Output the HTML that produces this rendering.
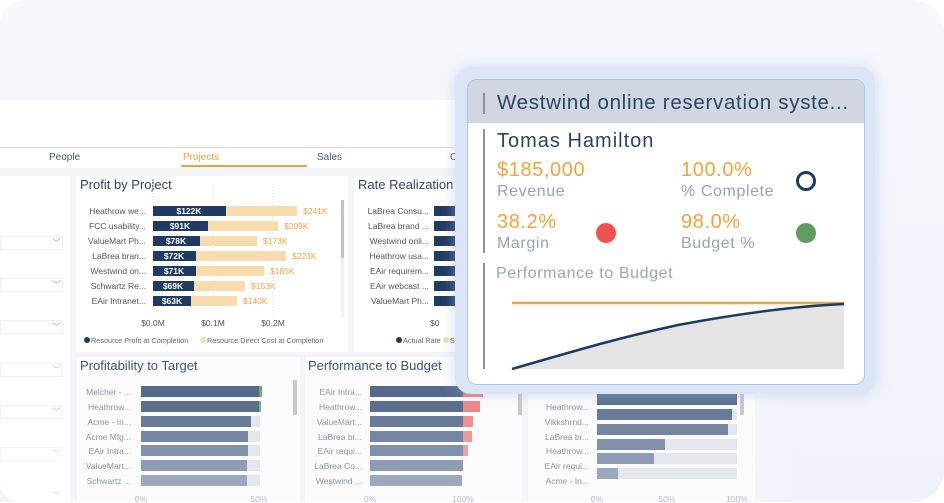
<!DOCTYPE html>
<html><head><meta charset="utf-8"><style>
*{margin:0;padding:0;box-sizing:border-box}
body{width:944px;height:502px;overflow:hidden;background:#fff;font-family:"Liberation Sans",sans-serif;position:relative}
.a{position:absolute}
.t{position:absolute;white-space:nowrap}
.p .t{letter-spacing:0.6px}
</style></head><body>
<div class="a" style="left:0;top:0;width:944px;height:502px;border-radius:24px 32px 32px 0;background:linear-gradient(180deg,#f7f8fd,#f0f2fb)"></div>
<!-- dashboard -->
<div class="a" style="left:0;top:100px;width:800px;height:402px;background:linear-gradient(90deg,rgba(255,255,255,1) 80%,rgba(255,255,255,0));border-bottom-left-radius:20px"></div>
<div class="a" style="left:0;top:147px;width:460px;height:1px;background:#d8dbe0"></div>
<div class="a" style="left:0;top:168px;width:780px;height:334px;background:linear-gradient(90deg,#f3f5f7 85%,rgba(243,245,247,0))"></div>
<div class="t" style="left:49px;top:152px;font-size:10px;color:#41597a">People</div>
<div class="t" style="left:183px;top:152px;font-size:10px;color:#f3a23d">Projects</div>
<div class="a" style="left:181px;top:165px;width:126px;height:2px;background:#f3a23d"></div>
<div class="t" style="left:317px;top:152px;font-size:10px;color:#41597a">Sales</div>
<div class="t" style="left:450px;top:152px;font-size:10px;color:#41597a">C</div>
<!-- left panel -->
<div class="a" style="left:0;top:176px;width:70px;height:326px;background:#fff;border-bottom-left-radius:20px"></div>
<div class="a" style="left:0;top:236px;width:63px;height:14px;border:1px solid #eceef0"></div>
<div class="a" style="left:0;top:278px;width:63px;height:14px;border:1px solid #eceef0"></div>
<div class="a" style="left:0;top:320px;width:63px;height:14px;border:1px solid #eceef0"></div>
<div class="a" style="left:0;top:363px;width:63px;height:14px;border:1px solid #f0f1f3"></div>
<div class="a" style="left:0;top:405px;width:63px;height:14px;border:1px solid #f0f1f3"></div>
<div class="a" style="left:0;top:447px;width:63px;height:14px;border:1px solid #f3f4f5"></div>
<div class="t" style="left:52px;top:236px;font-size:9px;color:#9aa;line-height:14px">﹀</div>
<div class="t" style="left:52px;top:278px;font-size:9px;color:#9aa;line-height:14px">﹀</div>
<div class="t" style="left:52px;top:320px;font-size:9px;color:#9aa;line-height:14px">﹀</div>
<div class="t" style="left:52px;top:363px;font-size:9px;color:#bbc;line-height:14px">﹀</div>
<div class="t" style="left:52px;top:405px;font-size:9px;color:#bbc;line-height:14px">﹀</div>
<div class="t" style="left:52px;top:447px;font-size:9px;color:#ccd;line-height:14px">﹀</div>
<div class="t" style="left:52px;top:489px;font-size:9px;color:#ccd;line-height:14px">﹀</div>

<!-- Profit by project -->
<div class="a" style="left:76px;top:176px;width:272px;height:176px;background:#fff"></div>
<div class="t" style="left:80px;top:177px;font-size:13px;color:#2b4568">Profit by Project</div>
<div class="a" style="left:341px;top:200px;width:3px;height:117px;background:#f0f0f0"></div>
<div class="a" style="left:341px;top:200px;width:3px;height:58px;background:#c4c4c4"></div>
<svg class="a" style="left:76px;top:176px" width="272" height="176" font-family="Liberation Sans" font-size="8.5">
<g stroke="#ddd" stroke-dasharray="1 2"><line x1="77" y1="8" x2="77" y2="138"/><line x1="137" y1="8" x2="137" y2="138"/><line x1="197" y1="8" x2="197" y2="138"/></g>
<g fill="#f7dcad"><rect x="77" y="30" width="144" height="10"/><rect x="77" y="45" width="125" height="10"/><rect x="77" y="60" width="104" height="10"/><rect x="77" y="75" width="133" height="10"/><rect x="77" y="90" width="111" height="10"/><rect x="77" y="105" width="92" height="10"/><rect x="77" y="120" width="84" height="10"/></g>
<g fill="#1f3a63"><rect x="77" y="30" width="73" height="10"/><rect x="77" y="45" width="55" height="10"/><rect x="77" y="60" width="47" height="10"/><rect x="77" y="75" width="43" height="10"/><rect x="77" y="90" width="43" height="10"/><rect x="77" y="105" width="41" height="10"/><rect x="77" y="120" width="38" height="10"/></g>
<g fill="#fff" font-weight="bold" text-anchor="middle"><text x="113" y="38">$122K</text><text x="104" y="53">$91K</text><text x="100" y="68">$78K</text><text x="98" y="83">$72K</text><text x="98" y="98">$71K</text><text x="97" y="113">$69K</text><text x="96" y="128">$63K</text></g>
<g fill="#f3a23d"><text x="227" y="38">$241K</text><text x="208" y="53">$209K</text><text x="187" y="68">$173K</text><text x="216" y="83">$223K</text><text x="194" y="98">$185K</text><text x="175" y="113">$153K</text><text x="167" y="128">$140K</text></g>
<g fill="#555" text-anchor="end"><text x="70" y="38">Heathrow we...</text><text x="70" y="53">FCC usability...</text><text x="70" y="68">ValueMart Ph...</text><text x="70" y="83">LaBrea bran...</text><text x="70" y="98">Westwind on...</text><text x="70" y="113">Schwartz Re...</text><text x="70" y="128">EAir Intranet...</text></g>
<g fill="#555" text-anchor="middle"><text x="77" y="150">$0.0M</text><text x="137" y="150">$0.1M</text><text x="197" y="150">$0.2M</text></g>
<circle cx="11" cy="164" r="3" fill="#1f3a63"/><text x="15" y="167" font-size="7.3" fill="#666">Resource Profit at Completion</text>
<circle cx="127" cy="164" r="3" fill="#f7dcad"/><text x="131" y="167" font-size="7.3" fill="#666">Resource Direct Cost at Completion</text>
</svg>
<!-- Rate realization -->
<div class="a" style="left:354px;top:176px;width:110px;height:176px;background:#fff"></div>
<svg class="a" style="left:354px;top:176px" width="110" height="176" font-family="Liberation Sans" font-size="8.5">
<text x="4" y="13" font-size="13" fill="#2b4568">Rate Realization</text>
<g fill="#1f3a63"><rect x="80" y="30" width="30" height="10"/><rect x="80" y="45" width="30" height="10"/><rect x="80" y="60" width="30" height="10"/><rect x="80" y="75" width="30" height="10"/><rect x="80" y="90" width="30" height="10"/><rect x="80" y="105" width="30" height="10"/><rect x="80" y="120" width="30" height="10"/></g>
<g fill="#555" text-anchor="end"><text x="75" y="38">LaBrea Consu...</text><text x="75" y="53">LaBrea brand ...</text><text x="75" y="68">Westwind onli...</text><text x="75" y="83">Heathrow usa...</text><text x="75" y="98">EAir requirem...</text><text x="75" y="113">EAir webcast ...</text><text x="75" y="128">ValueMart Ph...</text></g>
<text x="76" y="150" fill="#555">$0</text>
<circle cx="45" cy="164" r="3" fill="#1f3a63"/><text x="49" y="167" font-size="7.3" fill="#666">Actual Rate</text>
<circle cx="92" cy="164" r="3" fill="#f7dcad"/><text x="96" y="167" font-size="7.3" fill="#666">Sa</text>
</svg>

<!-- bottom panels -->
<div class="a" style="left:77px;top:357px;width:223px;height:145px;background:#fcfcfd"></div>
<div class="a" style="left:305px;top:357px;width:217px;height:145px;background:#fcfcfd"></div>
<div class="a" style="left:528px;top:357px;width:227px;height:145px;background:#fcfcfd"></div>
<svg class="a" style="left:0;top:357px" width="780" height="145" font-family="Liberation Sans" font-size="8.5">
<text x="80" y="13" font-size="13" fill="#3d5577">Profitability to Target</text>
<text x="308" y="13" font-size="13" fill="#3d5577">Performance to Budget</text>
<rect x="293" y="23" width="4" height="35" fill="#c8c8c8"/>
<rect x="518" y="23" width="4" height="35" fill="#c8c8c8"/>
<rect x="740" y="23" width="4" height="35" fill="#c8c8c8"/>
<g fill="#e4e7ec">
<rect x="141" y="44" width="119" height="11"/><rect x="141" y="59" width="119" height="11"/><rect x="141" y="74" width="119" height="11"/><rect x="141" y="88" width="119" height="11"/><rect x="141" y="103" width="119" height="11"/><rect x="141" y="118" width="119" height="11"/>
<rect x="597" y="52" width="140" height="11"/><rect x="597" y="67" width="140" height="11"/><rect x="597" y="82" width="140" height="11"/><rect x="597" y="96" width="140" height="11"/><rect x="597" y="111" width="140" height="11"/>
</g>
<g>
<rect x="141" y="29" width="118" height="11" fill="#55698a"/><rect x="259" y="29" width="3" height="11" fill="#6aaa6a"/>
<rect x="141" y="44" width="118" height="11" fill="#5b6f8f"/><rect x="259" y="44" width="2" height="11" fill="#7ab07a"/>
<rect x="141" y="59" width="110" height="11" fill="#687b99"/>
<rect x="141" y="74" width="107" height="11" fill="#7586a2"/>
<rect x="141" y="88" width="107" height="11" fill="#8291ab"/>
<rect x="141" y="103" width="106" height="11" fill="#8f9db4"/>
<rect x="141" y="118" width="106" height="11" fill="#9ca8bc"/>
<rect x="370" y="29" width="93" height="11" fill="#55698a"/><rect x="463" y="29" width="20" height="11" fill="#ee8080"/>
<rect x="370" y="44" width="93" height="11" fill="#5b6f8f"/><rect x="463" y="44" width="17" height="11" fill="#ee8888"/>
<rect x="370" y="59" width="93" height="11" fill="#687b99"/><rect x="463" y="59" width="10" height="11" fill="#ef9090"/>
<rect x="370" y="74" width="93" height="11" fill="#7586a2"/><rect x="463" y="74" width="9" height="11" fill="#f09898"/>
<rect x="370" y="88" width="93" height="11" fill="#8291ab"/><rect x="463" y="88" width="5" height="11" fill="#f0a0a0"/>
<rect x="370" y="103" width="93" height="11" fill="#8f9db4"/>
<rect x="370" y="118" width="92" height="11" fill="#9ca8bc"/>
<rect x="597" y="23" width="140" height="2" fill="#55698a"/>
<rect x="597" y="37" width="140" height="11" fill="#5b6f8f"/>
<rect x="597" y="52" width="135" height="11" fill="#687b99"/>
<rect x="597" y="67" width="131" height="11" fill="#7586a2"/>
<rect x="597" y="82" width="68" height="11" fill="#8291ab"/>
<rect x="597" y="96" width="57" height="11" fill="#8f9db4"/>
<rect x="597" y="111" width="21" height="11" fill="#9ca8bc"/>
</g>
<g text-anchor="end" fill="#8a94a3">
<text x="131" y="38">Melcher - ...</text><text x="131" y="53">Heathrow...</text><text x="131" y="68">Acme - In...</text><text x="131" y="83">Acme Mfg...</text><text x="131" y="97">EAir Intra...</text><text x="131" y="112">ValueMart...</text><text x="131" y="127">Schwartz ...</text>
<text x="362" y="38">EAir Intra...</text><text x="362" y="53">Heathrow...</text><text x="362" y="68">ValueMart...</text><text x="362" y="83">LaBrea br...</text><text x="362" y="97">EAir requi...</text><text x="362" y="112">LaBrea Co...</text><text x="362" y="127">Westwind ...</text>
<text x="589" y="53">Heathrow...</text><text x="589" y="68">Vikkshrnd...</text><text x="589" y="83">LaBrea br...</text><text x="589" y="97">Heathrow...</text><text x="589" y="112">EAir requi...</text><text x="589" y="127">Acme - In...</text>
</g>
<g fill="#b5bcc6" text-anchor="middle"><text x="141" y="145">0%</text><text x="259" y="145">50%</text><text x="370" y="145">0%</text><text x="463" y="145">100%</text><text x="597" y="145">0%</text><text x="667" y="145">50%</text><text x="737" y="145">100%</text></g>
</svg>

<!-- popup -->
<div class="a" style="left:455px;top:67px;width:420px;height:327px;border-radius:16px;background:#dbe5f6;box-shadow:0 0 14px rgba(170,190,230,.5)"></div>
<div class="a p" style="left:467px;top:79px;width:398px;height:306px;border-radius:10px;background:#fff;border:1px solid #a9c6ee;overflow:hidden">
  <div class="a" style="left:0;top:0;width:398px;height:43px;background:#d0d7e0"></div>
  <div class="a" style="left:15px;top:13px;width:2px;height:21px;background:#8893a0"></div>
  <div class="t" style="left:29px;top:11px;font-size:20.5px;color:#2b4568;letter-spacing:0.7px">Westwind online reservation syste...</div>
  <div class="a" style="left:15px;top:49px;width:2px;height:124px;background:#8893a0"></div>
  <div class="t" style="left:29px;top:50px;font-size:20px;color:#2b4568;letter-spacing:1px">Tomas Hamilton</div>
  <div class="t" style="left:29px;top:79px;font-size:20px;color:#f3a23d">$185,000</div>
  <div class="t" style="left:29px;top:103px;font-size:16px;color:#96a3b3">Revenue</div>
  <div class="t" style="left:213px;top:79px;font-size:20px;color:#f3a23d">100.0%</div>
  <div class="t" style="left:213px;top:103px;font-size:16px;color:#96a3b3">% Complete</div>
  <div class="a" style="left:328px;top:91px;width:20px;height:20px;border-radius:50%;border:3.5px solid #1f3a63"></div>
  <div class="t" style="left:29px;top:131px;font-size:20px;color:#f3a23d">38.2%</div>
  <div class="t" style="left:29px;top:155px;font-size:16px;color:#96a3b3">Margin</div>
  <div class="a" style="left:128px;top:143px;width:20px;height:20px;border-radius:50%;background:#ef5350"></div>
  <div class="t" style="left:213px;top:131px;font-size:20px;color:#f3a23d">98.0%</div>
  <div class="t" style="left:213px;top:155px;font-size:16px;color:#96a3b3">Budget %</div>
  <div class="a" style="left:328px;top:143px;width:20px;height:20px;border-radius:50%;background:#5e9e5e"></div>
  <div class="a" style="left:15px;top:183px;width:2px;height:106px;background:#8893a0"></div>
  <div class="t" style="left:28px;top:185px;font-size:16px;color:#9aa6b4">Performance to Budget</div>
  <svg class="a" style="left:0;top:0" width="398" height="306">
    <path d="M44 289 C110 270,150 258,210 245 C280 232,330 226,376 224 L376 289 Z" fill="#e4e4e4"/>
    <path d="M44 223 L376 223" stroke="#f3a23d" stroke-width="2.5"/>
    <path d="M44 289 C110 270,150 258,210 245 C280 232,330 226,376 224" fill="none" stroke="#1f3a63" stroke-width="2.5"/>
  </svg>
</div>
</body></html>
